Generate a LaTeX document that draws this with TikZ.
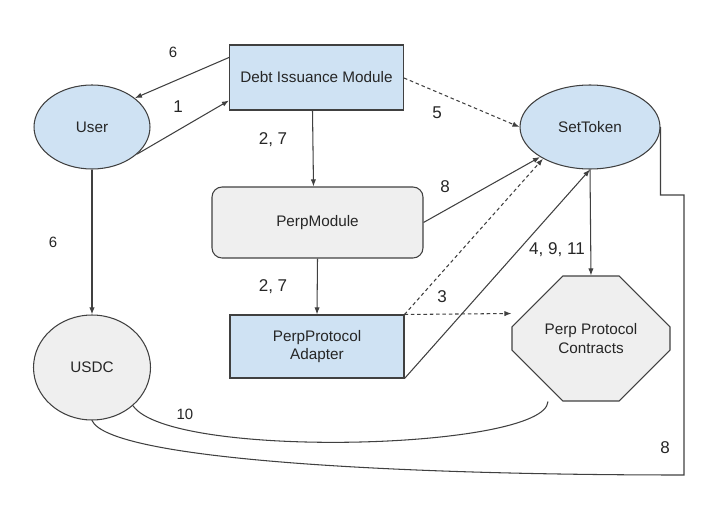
\documentclass[tikz,border=0pt]{standalone}
\usepackage{fontspec}
\setmainfont{Liberation Sans}
\usetikzlibrary{shapes.geometric,shapes.misc,arrows.meta,calc}
\definecolor{boxblue}{HTML}{CFE2F3}
\definecolor{boxgray}{HTML}{EFEFEF}
\definecolor{linegray}{HTML}{404040}
\begin{document}
\begin{tikzpicture}[x=0.02cm,y=-0.02cm,
  line width=0.6pt,
  every node/.style={text=black!85},
  block/.style={draw=linegray,fill=boxblue,font=\fontsize{8.7}{10.4}\selectfont,align=center,inner sep=0pt},
  oval/.style={ellipse,draw=linegray,inner sep=0pt,font=\fontsize{8.7}{10.4}\selectfont},
  lbl/.style={font=\fontsize{9.7}{11}\selectfont,inner sep=0pt},
  smalllbl/.style={font=\fontsize{8.5}{10}\selectfont,inner sep=0pt},
  arr/.style={draw=linegray,-{Latex[length=4pt,width=3pt]}},
  dasharr/.style={arr,dash pattern=on 2pt off 1.6pt}]
\useasboundingbox (0,0) rectangle (727,524);
% boxes and ovals
\node[block,minimum width=3.48cm,minimum height=1.3cm] (dim) at (316.5,77.5) {Debt Issuance Module};
\node[oval,fill=boxblue,minimum width=2.32cm,minimum height=1.68cm] (user) at (92,127) {User};
\node[oval,fill=boxblue,minimum width=2.8cm,minimum height=1.68cm] (settoken) at (590,127) {SetToken};
\node[block,fill=boxgray,rounded corners=0.2cm,minimum width=4.22cm,minimum height=1.42cm] (perpmod) at (317.5,222.5) {PerpModule};
\node[block,minimum width=3.48cm,minimum height=1.26cm] (adapter) at (317,346.5) {PerpProtocol\\Adapter};
\node[oval,fill=boxgray,minimum width=2.34cm,minimum height=2.1cm] (usdc) at (92,367.5) {USDC};
\node[block,fill=boxgray,chamfered rectangle,chamfered rectangle xsep=0.72cm,chamfered rectangle ysep=0.72cm,
  minimum width=3.16cm,minimum height=2.5cm] (ppc) at (591,338.5) {Perp Protocol\\Contracts};
% connectors
\draw[arr] ($(dim.north west)+(0,13)$) -- (user.34);
\draw[arr] (user.-31) -- ($(dim.south west)+(0,-10)$);
\draw[arr] ($(dim.south)+(-4,0)$) -- ($(perpmod.north)+(-4,0)$);
\draw[arr] (perpmod.south) -- (adapter.north);
\draw[arr] (user.south) -- (usdc.north);
\draw[dasharr] ($(dim.east)+(0,0.5)$) -- (settoken.west);
\draw[arr] (perpmod.east) -- (settoken.211);
\draw[dasharr] (adapter.north east) -- (settoken.214);
\draw[dasharr] (adapter.north east) -- ($(ppc.west)+(0,-25)$);
\draw[arr] (adapter.south east) -- (settoken.south);
\draw[arr] (settoken.south) -- (ppc.north);
\coordinate (bend) at (684,475);
\draw[draw=linegray] (settoken.east) -- ++(0,68) -| (bend) .. controls (400,475) and (110,460) .. (usdc.south);
\draw[draw=linegray] (usdc.-43) .. controls (170,460) and (545,450) .. ($(ppc.south)+(-43,0)$);
% labels
\node[smalllbl] (l6a) at (173,52) {6};
\node[lbl] (l1) at (178,107) {1};
\node[lbl] (l27a) at (273,140) {2, 7};
\node[lbl] (l5) at (437,113) {5};
\node[lbl] (l8a) at (445,187) {8};
\node[smalllbl] (l6b) at (53,242) {6};
\node[lbl] (l27b) at (273,287) {2, 7};
\node[lbl] (l3) at (442,297) {3};
\node[lbl] (l4911) at (557,250) {4, 9, 11};
\node[smalllbl] (l10) at (185,414) {10};
\node[lbl] (l8b) at (665,448) {8};
\end{tikzpicture}
\end{document}
